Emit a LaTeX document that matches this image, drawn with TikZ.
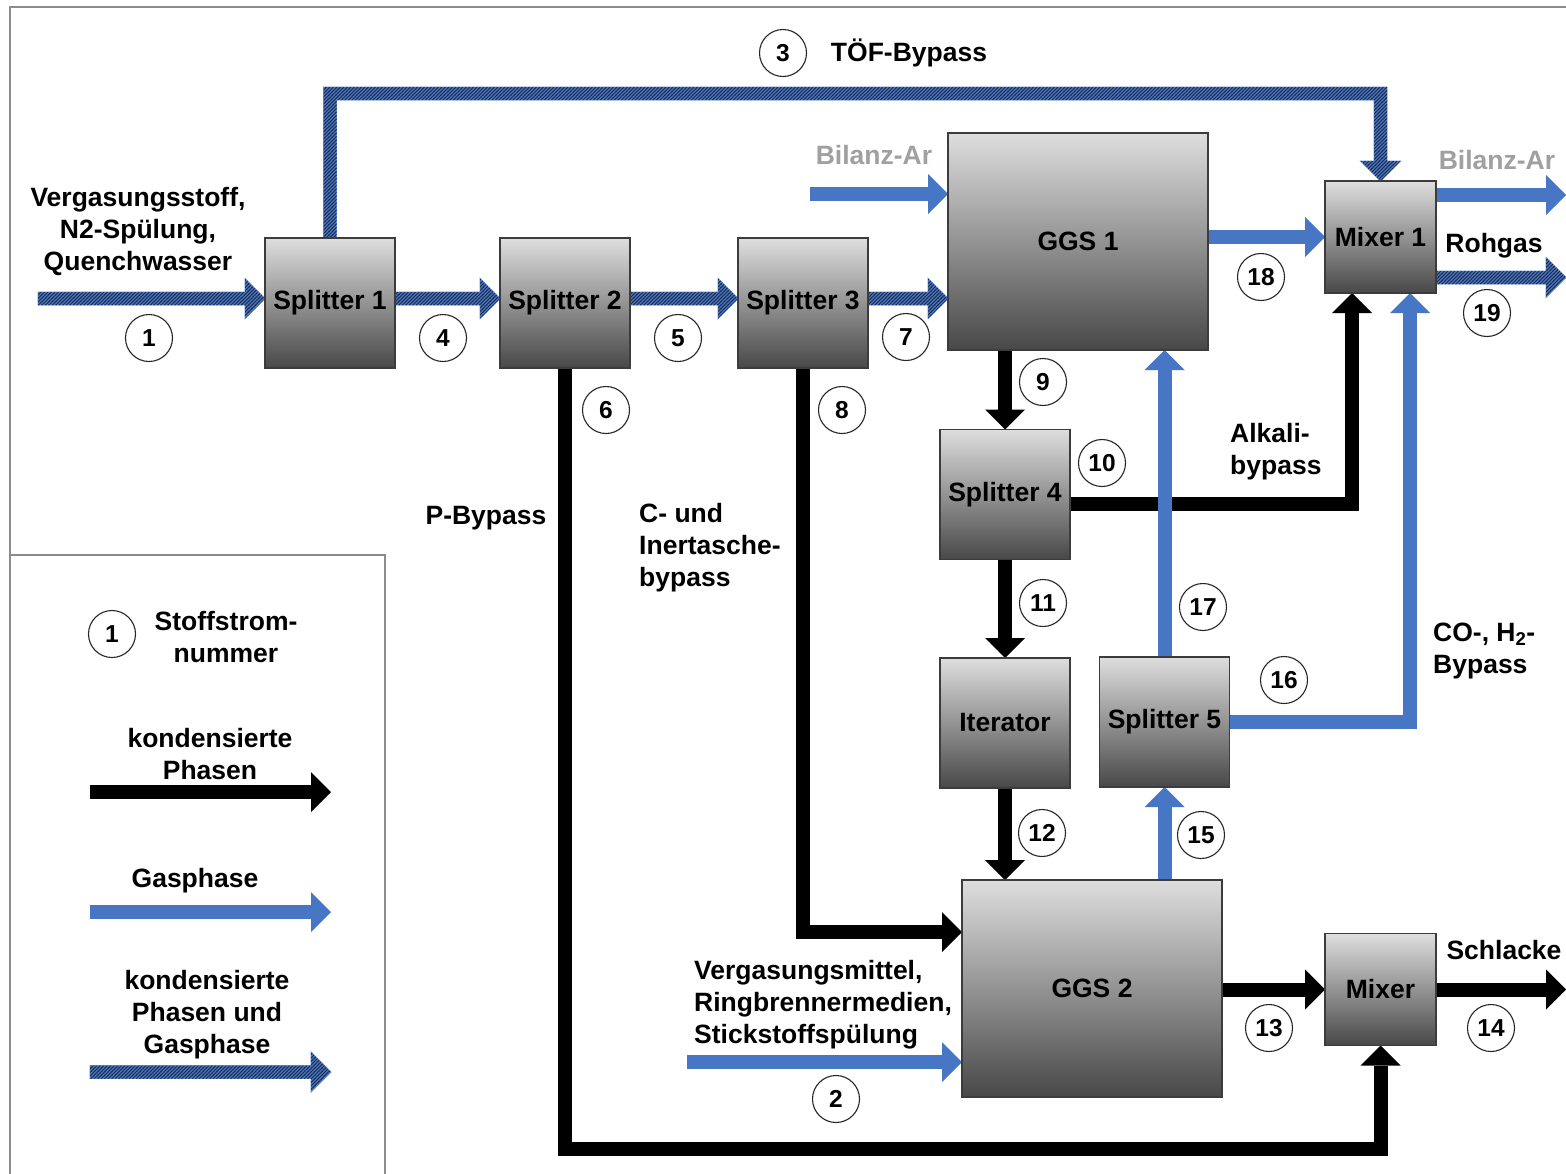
\documentclass[tikz,border=0pt]{standalone}
\usepackage{fontspec}
\setmainfont{Liberation Sans}
\usetikzlibrary{arrows.meta,calc,patterns}
\definecolor{gblue}{RGB}{70,118,196}
\definecolor{hatchc}{RGB}{30,42,70}
\definecolor{hedge}{RGB}{95,140,210}
\definecolor{boxtop}{RGB}{222,222,222}
\definecolor{boxbot}{RGB}{72,72,72}
\definecolor{boxline}{RGB}{60,60,60}
\definecolor{framec}{RGB}{140,140,140}
\definecolor{argray}{RGB}{160,160,160}
\pgfdeclarepatternformonly{flowhatch}{\pgfqpoint{-1pt}{-1pt}}{\pgfqpoint{4.5pt}{4.5pt}}{\pgfqpoint{3.5pt}{3.5pt}}{%
  \pgfsetlinewidth{0.95pt}%
  \pgfpathmoveto{\pgfqpoint{-0.3pt}{-0.3pt}}%
  \pgfpathlineto{\pgfqpoint{3.8pt}{3.8pt}}%
  \pgfusepath{stroke}}
\pgfdeclarelayer{bg}
\pgfsetlayers{bg,main}
\newcommand\hatcharrow[2]{%
  \coordinate (hA) at (#1);
  \coordinate (hB) at (#2);
  \coordinate (hH) at ($(hB)!20pt!(hA)$);
  \draw[hatched] ($(hA)!6.5pt!90:(hB)$) -- ($(hH)!6.5pt!-90:(hA)$) -- ($(hH)!20pt!-90:(hA)$) -- (hB)
     -- ($(hH)!20pt!90:(hA)$) -- ($(hH)!6.5pt!90:(hA)$) -- ($(hA)!6.5pt!-90:(hB)$) -- cycle;
}
\tikzset{
  base/.style={font=\bfseries\fontsize{26.5}{32}\selectfont},
  box/.style={base, draw=boxline, line width=1.2pt, top color=boxtop, bottom color=boxbot, inner sep=0pt, outer sep=0pt, align=center},
  num/.style={circle, draw=black!85, line width=1.1pt, minimum size=47pt, inner sep=0pt, font=\bfseries\fontsize{24.5}{24.5}\selectfont},
  lbl/.style={base, align=center, inner sep=0pt},
  lbll/.style={base, align=left, inner sep=0pt},
  blk/.style={color=black, line width=14pt, line join=miter, -{Triangle[length=20pt,width=40pt,line width=0pt]}},
  gas/.style={blk, color=gblue},
  hatched/.style={fill=gblue, draw=hedge, line width=0.8pt, postaction={pattern=flowhatch, pattern color=hatchc}},
}
\begin{document}
\begin{tikzpicture}[x=1pt,y=-1pt]
\useasboundingbox (0,0) rectangle (1566,1173);
\begin{pgfonlayer}{bg}
\fill[white] (0,0) rectangle (1566,1173);
\end{pgfonlayer}
% frame
\draw[framec, line width=1.5pt] (10,1175) -- (10,7) -- (1568,7);
\draw[framec, line width=1.5pt] (10,555) -- (385,555) -- (385,1175);

% boxes
\node[box, minimum width=130pt, minimum height=130pt] (S1) at (330,303) {Splitter 1};
\node[box, minimum width=130pt, minimum height=130pt] (S2) at (565,303) {Splitter 2};
\node[box, minimum width=130pt, minimum height=130pt] (S3) at (803,303) {Splitter 3};
\node[box, minimum width=260pt, minimum height=217pt] (G1) at (1078,241.5) {GGS 1};
\node[box, minimum width=111pt, minimum height=112pt] (M1) at (1380.5,237) {Mixer 1};
\node[box, minimum width=130pt, minimum height=130pt] (S4) at (1005,494.5) {Splitter 4};
\node[box, minimum width=130pt, minimum height=130pt] (It) at (1005,723) {Iterator};
\node[box, minimum width=130pt, minimum height=130pt] (S5) at (1164.5,722) {Splitter 5};
\node[box, minimum width=260pt, minimum height=217pt] (G2) at (1092,988.5) {GGS 2};
\node[box, minimum width=111pt, minimum height=112pt] (M) at (1380.5,989.5) {Mixer};

% helper levels
\coordinate (yh) at (0,298.5);
\coordinate (in1) at (38,298.5);
\coordinate (y19) at (0,277.5);
\coordinate (e19) at (1566,277.5);
\coordinate (ytof) at (0,93.5);
\coordinate (bin) at (810,194);
\coordinate (bout) at (1566,195);
\coordinate (x16) at (1410,0);
\coordinate (in2) at (687,1062);
\coordinate (yak) at (0,504);
\coordinate (xak) at (1352,0);
\coordinate (y8) at (0,932);
\coordinate (e14) at (1566,989.5);
\coordinate (y6) at (0,1149);

\begin{pgfonlayer}{bg}
% hatched (condensed + gas)
\hatcharrow{in1}{S1.west |- yh}
\hatcharrow{S1.east |- yh}{S2.west |- yh}
\hatcharrow{S2.east |- yh}{S3.west |- yh}
\hatcharrow{S3.east |- yh}{G1.west |- yh}
\hatcharrow{M1.east |- y19}{e19}
\draw[hatched] ($(S1.north)+(-6.5,0)$) -- ($(S1.north |- ytof)+(-6.5,-6.5)$) -- ($(M1.north |- ytof)+(6.5,-6.5)$)
  -- ($(M1.north)+(6.5,-20)$) -- ($(M1.north)+(20,-20)$) -- (M1.north) -- ($(M1.north)+(-20,-20)$)
  -- ($(M1.north)+(-6.5,-20)$) -- ($(M1.north |- ytof)+(-6.5,6.5)$) -- ($(S1.north |- ytof)+(6.5,6.5)$)
  -- ($(S1.north)+(6.5,0)$) -- cycle;
% condensed phases
\draw[blk] (S4.north |- G1.south) -- (S4.north);
\draw[blk] (S4.south) -- (It.north);
\draw[blk] (It.south) -- (It.south |- G2.north);
\draw[blk] (S4.east |- yak) -| (xak |- M1.south);
\draw[blk] (S3.south) |- (G2.west |- y8);
\draw[blk] (M.west -| G2.east) -- (M.west);
\draw[blk] (M.east) -- (e14);
\draw[blk] (S2.south) |- (M.south |- y6) -- (M.south);
% gas phase
\draw[gas] (bin) -- (bin -| G1.west);
\draw[gas] (bout -| M1.east) -- (bout);
\draw[gas] (M1.west -| G1.east) -- (M1.west);
\draw[gas] (S5.north) -- (S5.north |- G1.south);
\draw[gas] (S5.south |- G2.north) -- (S5.south);
\draw[gas] (S5.east) -| (x16 |- M1.south);
\draw[gas] (in2) -- (in2 -| G2.west);
\end{pgfonlayer}

% stream numbers
\node[num] (n1) at (149,338) {1};
\node[num] (n2) at (836,1099) {2};
\node[num] (n3) at (783,53) {3};
\node[num] (n4) at (443,338) {4};
\node[num] (n5) at (678,338) {5};
\node[num] (n6) at (606,410) {6};
\node[num] (n7) at (906,337) {7};
\node[num] (n8) at (842,410) {8};
\node[num] (n9) at (1043,382) {9};
\node[num] (n10) at (1102,463) {10};
\node[num] (n11) at (1043,603) {11};
\node[num] (n12) at (1042,833) {12};
\node[num] (n13) at (1269,1028) {13};
\node[num] (n14) at (1491,1028) {14};
\node[num] (n15) at (1201,835) {15};
\node[num] (n16) at (1284,680) {16};
\node[num] (n17) at (1203,607) {17};
\node[num] (n18) at (1261,277) {18};
\node[num] (n19) at (1487,313) {19};

% labels
\node[lbl] (tof) at (909,53) {TÖF-Bypass};
\node[lbl] (feed) at (138,232) {Vergasungsstoff,\\N2-Spülung,\\Quenchwasser};
\node[lbl, text=argray] (ar1) at (874,155) {Bilanz-Ar};
\node[lbl, text=argray] (ar2) at (1497,160) {Bilanz-Ar};
\node[lbl] (roh) at (1494,246) {Rohgas};
\node[lbll, anchor=west] (alk) at (1230,452) {Alkali-\\bypass};
\node[lbl] (pby) at (486,518) {P-Bypass};
\node[lbll, anchor=west] (cby) at (639,548) {C- und\\Inertasche-\\bypass};
\node[lbll, anchor=west] (coby) at (1433,651) {CO-, H\textsubscript{2}-\\Bypass};
\node[lbll, anchor=west] (vm) at (694,1005) {Vergasungsmittel,\\Ringbrennermedien,\\Stickstoffspülung};
\node[lbl] (sch) at (1504,950) {Schlacke};

% legend
\node[num] (ln) at (112,634) {1};
\node[lbl] (lt1) at (226,637) {Stoffstrom-\\nummer};
\node[lbl] (lt2) at (210,754) {kondensierte\\Phasen};
\node[lbl] (lt3) at (195,881) {Gasphase};
\node[lbl] (lt4) at (207,1015) {kondensierte\\Phasen und\\Gasphase};
\coordinate (lb1) at (90,792);
\coordinate (lb2) at (331,792);
\coordinate (lg1) at (90,912);
\coordinate (lg2) at (331,912);
\coordinate (lh1) at (90,1072);
\coordinate (lh2) at (331,1072);
\draw[blk] (lb1) -- (lb2);
\draw[gas] (lg1) -- (lg2);
\hatcharrow{lh1}{lh2}
\end{tikzpicture}
\end{document}
